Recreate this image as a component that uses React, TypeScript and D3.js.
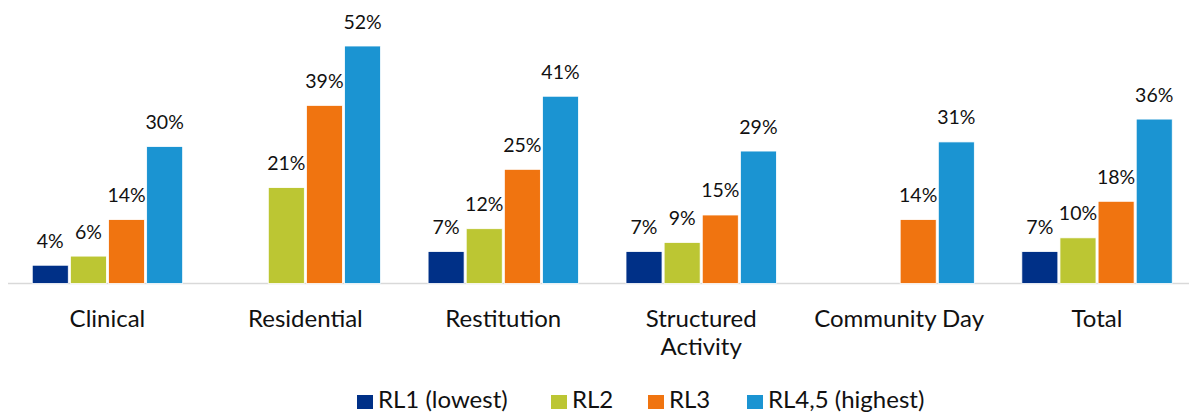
import React from "react";
import * as d3 from "d3";

const categories = ["Clinical", "Residential", "Restitution", "Structured Activity", "Community Day", "Total"];
const categoryLines = [["Clinical"], ["Residential"], ["Restitution"], ["Structured", "Activity"], ["Community Day"], ["Total"]];
const seriesNames = ["RL1 (lowest)", "RL2", "RL3", "RL4,5 (highest)"];
const seriesColors = ["#003087", "#BCC633", "#F07410", "#1B94D2"];
const rl1 = [4, null, 7, 7, null, 7];
const rl2 = [6, 21, 12, 9, null, 10];
const rl3 = [14, 39, 25, 15, 14, 18];
const rl45 = [30, 52, 41, 29, 31, 36];
const seriesValues = [rl1, rl2, rl3, rl45];

const W = 1189;
const H = 414;
const FONT = "Lato, Carlito, Calibri, sans-serif";

export default function App() {
  const x0 = d3.scaleBand<string>().domain(categories).range([8.5, 1196]).padding(0);
  const bw = x0.bandwidth();
  const x1 = d3
    .scaleBand<string>()
    .domain(seriesNames)
    .range([bw * 0.12, bw * 0.88])
    .paddingInner(0.055)
    .paddingOuter(0);
  const y = d3.scaleLinear().domain([0, 52]).range([283.5, 46]);

  const legendX = [357, 551, 648, 747];

  return (
    <svg width={W} height={H} style={{ position: "absolute", left: 0, top: 0, background: "#fff" }}>
      <line x1={8} x2={W} y1={y(0)} y2={y(0)} stroke="#d9d9d9" strokeWidth={1.5} />
      {categories.map((c, ci) => (
        <g key={c} transform={`translate(${x0(c)},0)`}>
          {seriesNames.map((s, si) => {
            const v = seriesValues[si][ci];
            if (v == null) return null;
            const bx = x1(s)!;
            const top = y(v);
            return (
              <g key={s}>
                <rect
                  x={bx}
                  y={top}
                  width={x1.bandwidth()}
                  height={y(0) - top}
                  fill={seriesColors[si]}
                  stroke="#ffffff"
                  strokeWidth={0.8}
                />
                <text
                  x={bx + x1.bandwidth() / 2}
                  y={top - 17.5}
                  textAnchor="middle"
                  fontFamily={FONT}
                  fontSize={19.5}
                  fill="#111"
                >
                  {v}%
                </text>
              </g>
            );
          })}
          {categoryLines[ci].map((line, li) => (
            <text
              key={li}
              x={bw / 2}
              y={327 + li * 27.5}
              textAnchor="middle"
              fontFamily={FONT}
              fontSize={24}
              fill="#111"
            >
              {line}
            </text>
          ))}
        </g>
      ))}
      {seriesNames.map((s, si) => (
        <g key={s} transform={`translate(${legendX[si]},0)`}>
          <rect x={0} y={395} width={16} height={14} fill={seriesColors[si]} />
          <text x={21} y={408} fontFamily={FONT} fontSize={24} fill="#111">
            {s}
          </text>
        </g>
      ))}
    </svg>
  );
}
